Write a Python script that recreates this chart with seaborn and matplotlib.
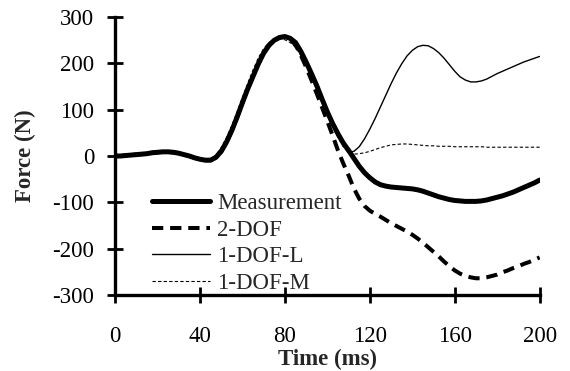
import matplotlib
matplotlib.use('Agg')
import matplotlib.pyplot as plt
import numpy as np
import pandas as pd
import seaborn as sns

# time axis (ms), one value every 2.5 ms
time_ms = np.arange(0, 200.1, 2.5)

measurement = [0, 0, 1, 2, 3, 4, 5, 7, 8, 9, 9, 8, 6, 3, 0, -4, -7, -9, -9, -3,
               10, 30, 55, 84, 115, 145, 172, 199, 222, 239, 250, 256, 258, 254, 245, 226,
               203, 178, 152, 123, 95, 70, 48, 28, 12, -5, -22, -36, -47, -56, -62,
               -65, -67, -68, -69, -70, -71, -73, -76, -80, -84, -88, -91, -94, -96, -97,
               -98, -98, -98, -97, -95, -92, -89, -86, -82, -78, -73, -68, -63, -58, -52]
two_dof = [0, 0, 1, 2, 3, 4, 5, 7, 8, 9, 9, 8, 6, 3, 0, -4, -7, -9, -9, -3,
           10, 30, 55, 84, 115, 145, 172, 199, 222, 239, 250, 256, 257, 252, 240, 218,
           192, 164, 135, 105, 75, 44, 12, -16, -42, -70, -92, -108, -118, -125, -131,
           -138, -145, -151, -157, -163, -170, -178, -187, -197, -207, -217, -228, -238, -247, -254,
           -259, -262, -264, -264, -262, -259, -256, -251, -247, -242, -238, -233, -229, -224, -219]
one_dof_l = [0, 0, 1, 2, 3, 4, 5, 7, 8, 9, 9, 8, 6, 3, 0, -4, -7, -9, -9, -3,
             10, 30, 55, 84, 115, 145, 172, 199, 222, 239, 250, 256, 258, 254, 245, 226,
             203, 178, 152, 123, 95, 70, 48, 27, 9, 10, 20, 37, 58, 81, 106,
             131, 156, 179, 199, 216, 228, 236, 239, 238, 232, 223, 211, 197, 183, 171,
             164, 160, 160, 162, 166, 172, 178, 183, 188, 193, 198, 203, 207, 211, 215]
one_dof_m = [0, 0, 0, 1, 2, 3, 4, 5, 6, 7, 7, 6, 4, 1, -2, -5, -8, -9, -7, 2,
             18, 40, 66, 96, 127, 157, 186, 212, 232, 245, 252, 254, 251, 245, 235, 217,
             195, 170, 143, 115, 88, 63, 40, 20, 7, 4, 5, 7, 10, 14, 18,
             21, 24, 25, 26, 26, 25, 24, 23, 22, 22, 21, 21, 21, 20, 20,
             20, 20, 20, 20, 19, 19, 19, 19, 19, 19, 19, 19, 19, 19, 19]

series_names = ['Measurement', '2-DOF', '1-DOF-L', '1-DOF-M']
x_ticks = [0, 40, 80, 120, 160, 200]
y_ticks = [-300, -200, -100, 0, 100, 200, 300]

df = pd.DataFrame({'time': time_ms, 'Measurement': measurement, '2-DOF': two_dof,
                   '1-DOF-L': one_dof_l, '1-DOF-M': one_dof_m})

sns.set_style('ticks')
plt.rcParams['font.family'] = ['Liberation Serif', 'DejaVu Serif']
plt.rcParams['font.size'] = 16.5
plt.rcParams['axes.unicode_minus'] = False

fig = plt.figure(figsize=(5.7, 3.71), dpi=100)
ax = fig.add_axes([0.2018, 0.205, 0.745, 0.749])

# line styles per series: (width, dash pattern or None)
styles = {'Measurement': (3.6, None),
          '2-DOF': (2.9, (2.8, 1.7)),
          '1-DOF-L': (1.0, None),
          '1-DOF-M': (0.8, (3.0, 2.0))}

for name in series_names:
    lw, dash = styles[name]
    sns.lineplot(data=df, x='time', y=name, ax=ax, color='black',
                 linewidth=lw, label=name)
    if dash is not None:
        ax.lines[-1].set_dashes(dash)
        ax.lines[-1].set_dash_capstyle('butt')

ax.set_xlim(0, 200)
ax.set_ylim(-300, 300)
ax.set_xticks(x_ticks)
ax.set_yticks(y_ticks)
ax.set_xlabel('Time (ms)', fontweight='bold', labelpad=2)
ax.set_ylabel('Force (N)', fontweight='bold', labelpad=12)

for side in ['top', 'right']:
    ax.spines[side].set_visible(False)
for side in ['left', 'bottom']:
    ax.spines[side].set_linewidth(2.4)
    ax.spines[side].set_color('black')
ax.tick_params(axis='both', direction='inout', length=12, width=2, colors='black')
ax.tick_params(axis='x', pad=16)
ax.tick_params(axis='y', pad=9)

leg = ax.legend(loc='center left', bbox_to_anchor=(0.266, 0.344),
                bbox_transform=fig.transFigure, frameon=False, borderpad=0,
                borderaxespad=0, handlelength=2.55, handletextpad=0.3,
                labelspacing=0.24)
for h in leg.get_lines():
    h.set_color('black')

fig.savefig('out.png', dpi=100)
